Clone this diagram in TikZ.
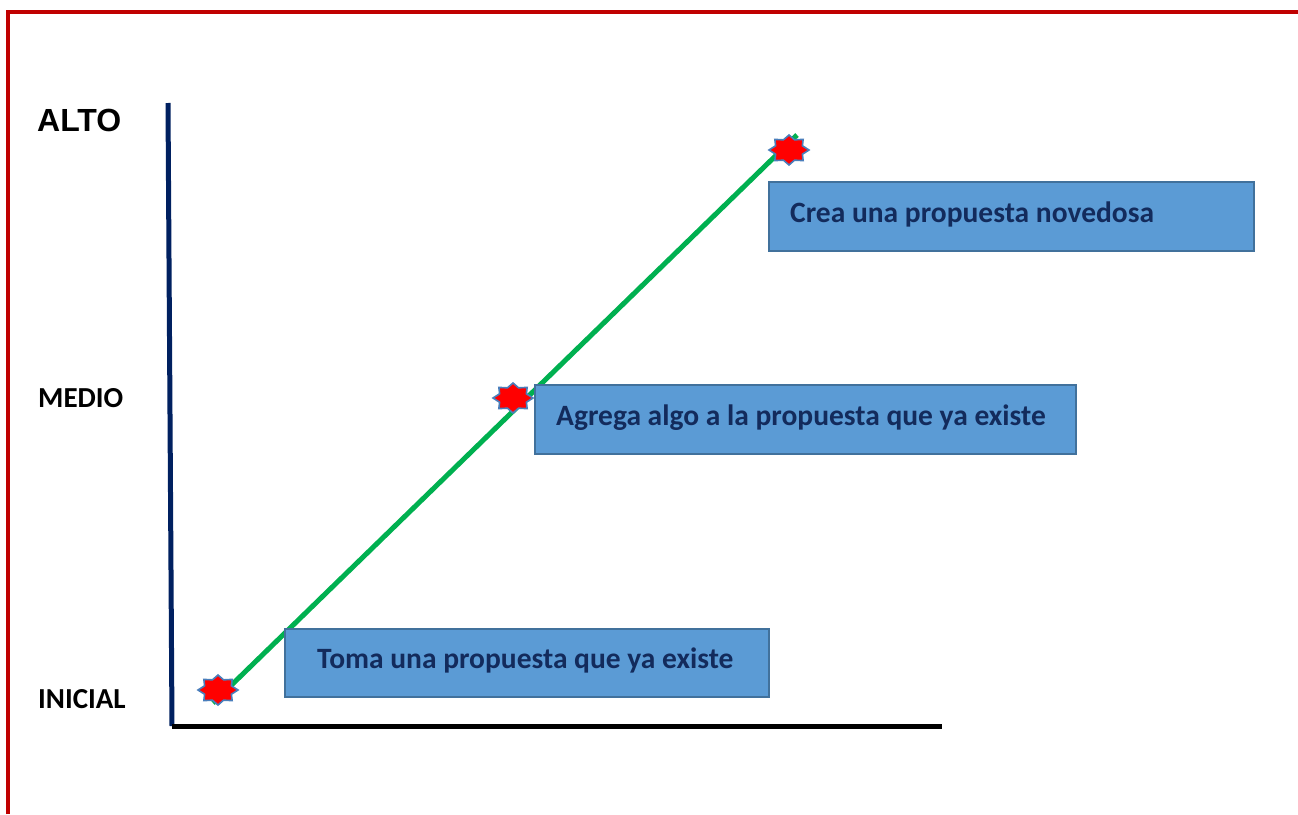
\documentclass[tikz,border=0pt]{standalone}
\usepackage{fontspec}
\setmainfont{Carlito}
\newfontfamily\arialbold{Liberation Sans Bold}
\definecolor{borderred}{HTML}{C00000}
\definecolor{axisnavy}{HTML}{002060}
\definecolor{linegreen}{HTML}{00B050}
\definecolor{boxfill}{HTML}{5B9BD5}
\definecolor{boxedge}{HTML}{41719C}
\definecolor{boxtext}{HTML}{132B5C}
\definecolor{sparkedge}{HTML}{4A7EBB}
\tikzset{
  frameline/.style={draw=borderred, line width=4pt},
  axisline/.style={line width=5pt},
  boxnode/.style={draw=boxedge, fill=boxfill, line width=1.8pt, anchor=north west, inner sep=0pt},
  boxlabel/.style={text=boxtext, font=\bfseries\fontsize{29.5}{34}\selectfont, anchor=west, inner sep=0pt},
  levellabel/.style={font=\bfseries\fontsize{29}{34}\selectfont, anchor=west, inner sep=0pt},
  spark/.pic={\draw[fill=red, draw=sparkedge, line width=1.6pt]
     (0:20 and 15) -- (22.5:14.5 and 11) -- (45:20 and 15) -- (67.5:14.5 and 11) --
     (90:20 and 15) -- (112.5:14.5 and 11) -- (135:20 and 15) -- (157.5:14.5 and 11) --
     (180:20 and 15) -- (202.5:14.5 and 11) -- (225:20 and 15) -- (247.5:14.5 and 11) --
     (270:20 and 15) -- (292.5:14.5 and 11) -- (315:20 and 15) -- (337.5:14.5 and 11) -- cycle;}
}
\begin{document}
\begin{tikzpicture}[x=1pt, y=-1pt]
\useasboundingbox (0,0) rectangle (1298,814);
% frame
\coordinate (fbl) at (8,814);
\coordinate (ftl) at (8,12);
\coordinate (ftr) at (1298,12);
\draw[frameline] (fbl) -- (ftl) -- (ftr);
% axes
\coordinate (ytop) at (168,103);
\coordinate (ybot) at (172,726);
\coordinate (xleft) at (172,726.5);
\coordinate (xright) at (942,726.5);
\draw[axisline, draw=axisnavy] (ytop) -- (ybot);
\draw[axisline, draw=black] (xleft) -- (xright);
% level labels
\node[levellabel, font=\arialbold\fontsize{32}{36}\selectfont] (alto) at (37,120) {ALTO};
\node[levellabel] (medio) at (38,398) {MEDIO};
\node[levellabel] (inicial) at (38,699) {INICIAL};
% green line
\coordinate (gstart) at (213,703);
\coordinate (gend) at (797,135);
\draw[draw=linegreen, line width=5pt] (gstart) -- (gend);
% boxes
\node[boxnode, minimum width=485, minimum height=69] (b1) at (768,181) {};
\node[boxlabel] (t1) at ([xshift=22,yshift=2]b1.west) {Crea una propuesta novedosa};
\node[boxnode, minimum width=541, minimum height=69] (b2) at (534,384) {};
\node[boxlabel] (t2) at ([xshift=22,yshift=2]b2.west) {Agrega algo a la propuesta que ya existe};
\node[boxnode, minimum width=484, minimum height=68] (b3) at (284,628) {};
\node[boxlabel] (t3) at ([xshift=33,yshift=2]b3.west) {Toma una propuesta que ya existe};
% sparks
\coordinate (s1) at (218,690);
\coordinate (s2) at (513,398);
\coordinate (s3) at (789,150);
\pic at (s1) {spark};
\pic at (s2) {spark};
\pic at (s3) {spark};
\end{tikzpicture}
\end{document}
